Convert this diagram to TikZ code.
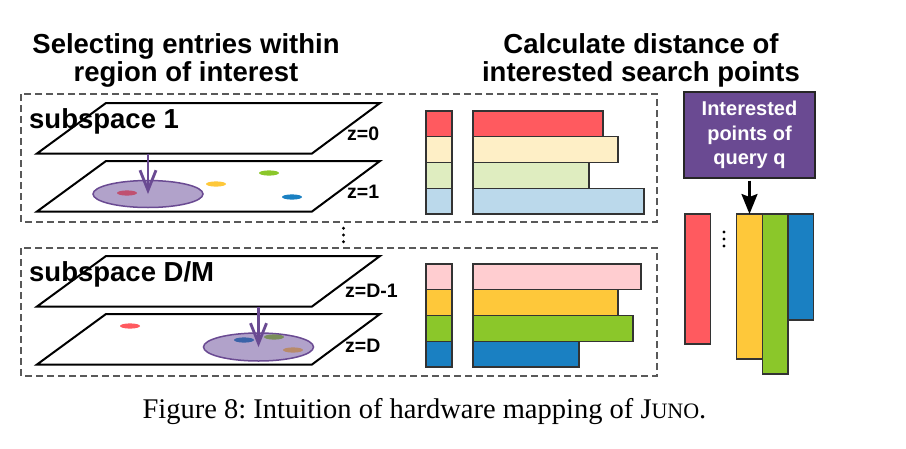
\documentclass[tikz,border=0pt]{standalone}
\usepackage{fontspec}
\setmainfont{Liberation Serif}
\setsansfont{Liberation Sans}
\usetikzlibrary{arrows.meta,positioning,shapes.geometric}
\definecolor{hwred}{RGB}{255,90,95}
\definecolor{hwcream}{RGB}{254,239,198}
\definecolor{hwlgreen}{RGB}{223,237,192}
\definecolor{hwlblue}{RGB}{187,217,235}
\definecolor{hwpink}{RGB}{255,205,208}
\definecolor{hwyellow}{RGB}{254,200,58}
\definecolor{hwgreen}{RGB}{139,199,42}
\definecolor{hwblue}{RGB}{26,128,194}
\definecolor{hwpurple}{RGB}{106,74,146}
\definecolor{hwlilac}{RGB}{177,162,202}
\definecolor{hwberry}{RGB}{192,80,112}
\definecolor{hwnavy}{RGB}{58,99,168}
\definecolor{hwolive}{RGB}{122,142,90}
\definecolor{hwbrown}{RGB}{184,138,106}
\newcommand{\bigsans}{\sffamily\bfseries\fontsize{27.5}{28.4}\selectfont}
\frenchspacing

\begin{document}
\begin{tikzpicture}[
  x=1pt, y=-1pt,
  title/.style={font=\bigsans, align=center, inner sep=0},
  sublabel/.style={font=\bigsans, anchor=base west, inner sep=0},
  zlabel/.style={font=\sffamily\bfseries\fontsize{19.5}{20}\selectfont, anchor=base west, inner sep=0},
  plane/.style={draw, fill=white, line width=2pt},
  region/.style={draw=black!65, line width=1.2pt, dash pattern=on 7pt off 4pt},
  roi/.style={ellipse, draw=hwpurple, line width=1.5pt, fill=hwlilac, inner sep=0,
    minimum width=110pt, minimum height=27pt},
  pick/.style={-{Straight Barb[length=20pt, width=16pt]}, draw=hwpurple, line width=2.8pt},
  cell/.style={draw=black!80, line width=1.2pt, minimum width=26pt, minimum height=25.75pt,
    inner sep=0, outer sep=0, anchor=north west},
  bar/.style={draw=black!80, line width=1.2pt, minimum height=25.75pt, inner sep=0, outer sep=0},
  col/.style={draw=black!80, line width=1.2pt, minimum width=25.75pt, inner sep=0, outer sep=0,
    anchor=north west},
  arrow/.style={-{Stealth[length=20pt, width=16pt, inset=3pt]}, line width=2.5pt},
]
  \useasboundingbox (0,0) rectangle (906,448);

  \node[title, anchor=base] (ttlSel) at (186,81.7) {Selecting entries within\\region of interest};
  \node[title, anchor=base] (ttlCalc) at (641,81.7) {Calculate distance of\\interested search points};

  \draw[region] (21,94) rectangle (657,222);
  \draw[region] (21,248) rectangle (657,376);
  \foreach \dy in {228.3,235,241.7} \fill (343.5,\dy) circle (1.6pt);

  \foreach \py in {103,161,256,314}
    \draw[plane] (106,\py) -- (380,\py) -- (312,\py+50.5) -- (37,\py+50.5) -- cycle;

  \node[roi] (roi1) at (148,194) {};
  \node[roi, minimum height=28pt] (roi2) at (258.5,347) {};
  \fill[hwberry] (127,193) ellipse [x radius=10pt, y radius=2.6pt];
  \fill[hwyellow] (216,184) ellipse [x radius=10pt, y radius=2.6pt];
  \fill[hwgreen] (269,173) ellipse [x radius=10pt, y radius=2.6pt];
  \fill[hwblue] (292,197) ellipse [x radius=10pt, y radius=2.6pt];
  \fill[hwred] (130,326) ellipse [x radius=10pt, y radius=2.6pt];
  \fill[hwnavy] (244,340) ellipse [x radius=10pt, y radius=2.6pt];
  \fill[hwolive] (274,337) ellipse [x radius=10pt, y radius=2.6pt];
  \fill[hwbrown] (293,350) ellipse [x radius=10pt, y radius=2.6pt];

  \coordinate (from1) at (148,153.5);
  \coordinate (from2) at (258.5,307);
  \draw[pick] (from1) -- (roi1.center);
  \draw[pick] (from2) -- (roi2.center);

  \node[sublabel] (sub1) at (29,128.3) {subspace 1};
  \node[sublabel] (subDM) at (29,281.7) {subspace D/M};
  \node[zlabel] (z0) at (347,140) {z=0};
  \node[zlabel] (z1) at (347,198.3) {z=1};
  \node[zlabel] (zD1) at (345,297.3) {z=D-1};
  \node[zlabel] (zD) at (345,352.7) {z=D};

  \foreach \fc/\len [count=\i] in {hwred/130, hwcream/145, hwlgreen/116, hwlblue/171} {
    \node[cell, fill=\fc] (c\i) at (426,111+25.75*\i-25.75) {};
    \node[bar, fill=\fc, minimum width=\len pt, right=21pt of c\i] (b\i) {};
  }
  \foreach \fc/\len [count=\i] in {hwpink/168, hwyellow/145, hwgreen/160, hwblue/106} {
    \node[cell, fill=\fc] (d\i) at (426,264+25.75*\i-25.75) {};
    \node[bar, fill=\fc, minimum width=\len pt, right=21pt of d\i] (e\i) {};
  }

  \node[draw=black!85, line width=1.2pt, fill=hwpurple, text=white, align=center,
    font=\sffamily\bfseries\fontsize{20}{24.5}\selectfont,
    minimum width=131pt, minimum height=86pt] (query) at (749.5,135) {Interested\\points of\\query q};

  \node[col, fill=hwred, minimum height=130pt] (qr) at (685,214) {};
  \node[col, fill=hwyellow, minimum height=145pt] (qy) at (736.5,214) {};
  \node[col, fill=hwgreen, minimum height=160pt] (qg) at (qy.north east) {};
  \node[col, fill=hwblue, minimum height=106pt] (qb) at (qg.north east) {};
  \foreach \dy in {232,239,246} \fill (724,\dy) circle (1.6pt);

  \draw[arrow, shorten <=2pt] (query.south) -- (query.south |- qy.north);

  \node[anchor=base, inner sep=0, font=\fontsize{28.5}{28.5}\selectfont] (cap) at (424.5,418)
    {Figure 8: Intuition of hardware mapping of J{\fontsize{22}{22}\selectfont UNO}.};
\end{tikzpicture}
\end{document}
